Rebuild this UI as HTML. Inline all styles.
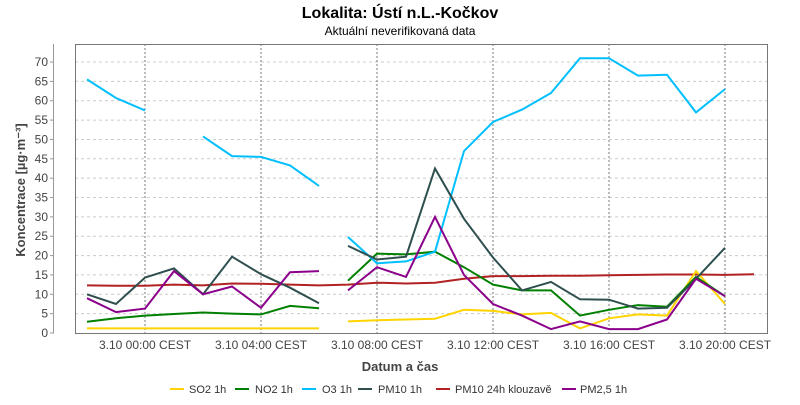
<!DOCTYPE html>
<html><head><meta charset="utf-8"><style>
body{margin:0;background:#fff;width:800px;height:400px;overflow:hidden;font-family:"Liberation Sans",sans-serif}
</style></head><body>
<svg id="s" width="800" height="400" xmlns="http://www.w3.org/2000/svg" font-family="Liberation Sans, sans-serif">
<text x="400" y="18" text-anchor="middle" font-size="16" font-weight="bold" fill="#000">Lokalita: Ústí n.L.-Kočkov</text>
<text x="400" y="35" text-anchor="middle" font-size="12" fill="#000">Aktuální neverifikovaná data</text>
<text x="400" y="371" text-anchor="middle" font-size="13" font-weight="bold" fill="#444">Datum a čas</text>
<text transform="translate(25,190) rotate(-90)" text-anchor="middle" font-size="13" font-weight="bold" fill="#444">Koncentrace [µg·m⁻³]</text>
<g id="g"></g>
</svg>
<script>
var g=document.getElementById('g'),h='';
function Y(v){return 333-3.871*v}
function X(t){return 145+29*t}
for(var v=5;v<=70;v+=5){h+='<line x1="75" x2="767" y1="'+Y(v)+'" y2="'+Y(v)+'" stroke="#ccc" stroke-dasharray="3,3"/>'}
for(var v=0;v<=70;v+=5){h+='<text x="48" y="'+(Y(v)+4)+'" text-anchor="end" font-size="12" fill="#444">'+v+'</text><line x1="50" x2="54" y1="'+Y(v)+'" y2="'+Y(v)+'" stroke="#999"/>'}
h+='<line x1="53.5" x2="53.5" y1="44" y2="333" stroke="#999"/>';
var labs=['3.10 00:00 CEST','3.10 04:00 CEST','3.10 08:00 CEST','3.10 12:00 CEST','3.10 16:00 CEST','3.10 20:00 CEST'];
for(var i=0;i<6;i++){var x=X(i*4);h+='<line x1="'+x+'" x2="'+x+'" y1="44" y2="333" stroke="#777" stroke-dasharray="2,2"/><text x="'+x+'" y="349" text-anchor="middle" font-size="12" fill="#444">'+labs[i]+'</text>';}
h+='<rect x="75.5" y="44.5" width="692" height="289" fill="none" stroke="#777"/>';
function line(c,t0,arr){var p=[];for(var i=0;i<arr.length;i++){if(arr[i]===null){continue}p.push(X(t0+i)+','+Y(arr[i]).toFixed(1))}h+='<polyline points="'+p.join(' ')+'" fill="none" stroke="'+c+'" stroke-width="2"/>'}
line('#b22222',-2,[12.3,12.2,12.2,12.5,12.3,12.8,12.7,12.5,12.3,12.5,13,12.8,13,14,14.7,14.7,14.8,14.8,14.9,15,15.1,15.1,15,15.2]);
line('#ffd400',-2,[1.2,1.2,1.2,1.2,1.2,1.2,1.2,1.2,1.2]);
line('#ffd400',7,[3,3.3,3.5,3.7,6,5.7,4.8,5.2,1.2,3.8,4.8,4.5,16,7.5]);
line('#008000',-2,[2.9,3.8,4.5,4.9,5.3,5,4.8,7,6.4]);
line('#008000',7,[13.5,20.5,20.3,21,17,12.5,11,11,4.5,6,7.2,6.8,14.5,9.5]);
line('#00bfff',-2,[65.5,60.7,57.5]);
line('#00bfff',2,[50.8,45.7,45.5,43.3,38]);
line('#00bfff',7,[24.8,18,18.5,21,47,54.5,57.7,62,71,71,66.5,66.7,57,63]);
line('#2f4f4f',-2,[10,7.5,14.3,16.7,10,19.7,15.2,11.7,7.7]);
line('#2f4f4f',7,[22.5,19,19.7,42.5,29.5,19.5,11,13.2,8.7,8.6,6.3,6.5,14,22]);
line('#8b008b',-2,[9,5.4,6.3,16,10,12,6.5,15.7,16]);
line('#8b008b',7,[11,17,14.5,30,15,7.5,4.5,1,3,1,1,3.5,14,9.5]);
var L=[['#ffd400','SO2 1h',170,189],['#008000','NO2 1h',235,255],['#00bfff','O3 1h',302,322],['#2f4f4f','PM10 1h',358,378],['#b22222','PM10 24h klouzavě',436,455],['#8b008b','PM2,5 1h',562,580]];
for(var i=0;i<L.length;i++){var x=L[i][2];h+='<line x1="'+x+'" x2="'+(x+14)+'" y1="389" y2="389" stroke="'+L[i][0]+'" stroke-width="2"/><text x="'+L[i][3]+'" y="393" font-size="11" fill="#333">'+L[i][1]+'</text>'}
g.innerHTML=h;
</script>
</body></html>
